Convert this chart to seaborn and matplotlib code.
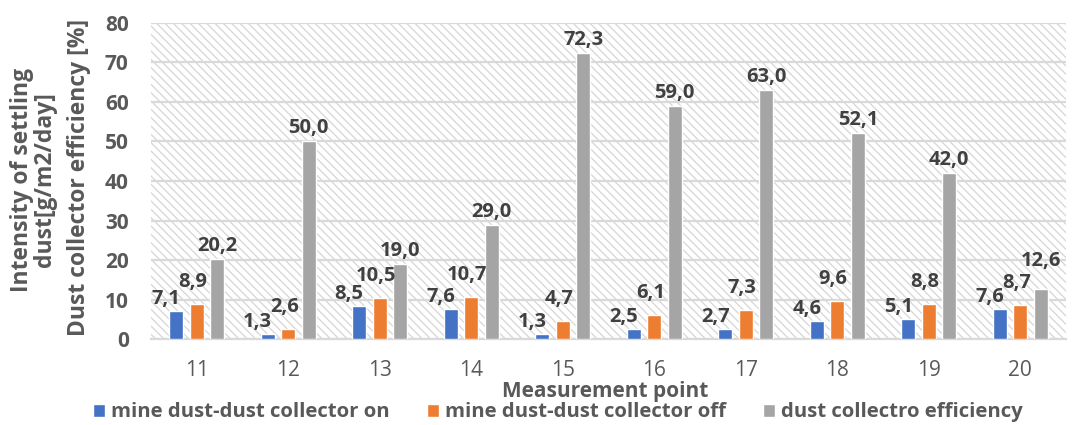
import matplotlib
matplotlib.use("Agg")
import matplotlib.pyplot as plt
import matplotlib.patches as mpatches
import seaborn as sns
import pandas as pd

# Measurement points and the three measured series
points = ["11", "12", "13", "14", "15", "16", "17", "18", "19", "20"]
dust_on = [7.1, 1.3, 8.5, 7.6, 1.3, 2.5, 2.7, 4.6, 5.1, 7.6]
dust_off = [8.9, 2.6, 10.5, 10.7, 4.7, 6.1, 7.3, 9.6, 8.8, 8.7]
efficiency = [20.2, 50.0, 19.0, 29.0, 72.3, 59.0, 63.0, 52.1, 42.0, 12.6]

series_names = [
    "mine dust-dust collector on",
    "mine dust-dust collector off",
    "dust collectro efficiency",
]
series_values = [dust_on, dust_off, efficiency]
colors = ["#4472C4", "#ED7D31", "#A5A5A5"]

y_ticks = [0, 10, 20, 30, 40, 50, 60, 70, 80]

rows = []
for name, vals in zip(series_names, series_values):
    for p, v in zip(points, vals):
        rows.append({"point": p, "value": v, "series": name})
df = pd.DataFrame(rows)

sns.set_theme(style="white")
plt.rcParams["font.family"] = ["Open Sans", "DejaVu Sans"]
plt.rcParams["hatch.linewidth"] = 0.9

fig = plt.figure(figsize=(10.73, 4.25), dpi=100)
ax = fig.add_axes([0.1407, 0.2016, 0.8528, 0.745])

# hatched plot-area background
bg = mpatches.Rectangle((0, 0), 1, 1, transform=ax.transAxes, facecolor="white",
                        edgecolor="#d6d6d6", hatch="\\\\\\\\", linewidth=0, zorder=0)
ax.add_patch(bg)

sns.barplot(data=df, x="point", y="value", hue="series", order=points,
            hue_order=series_names, palette=colors, width=0.672, gap=0.32,
            saturation=1, ax=ax, zorder=3, legend=True)

ax.set_ylim(0, 80)
ax.set_yticks(y_ticks)
ax.set_xlim(-0.5, len(points) - 0.5)
ax.grid(axis="y", color="#d9d9d9", linewidth=1.6, zorder=1)
ax.set_axisbelow(True)
for s in ["top", "right", "left"]:
    ax.spines[s].set_visible(False)
ax.spines["bottom"].set_color("#d9d9d9")
ax.spines["bottom"].set_linewidth(1.6)
ax.tick_params(axis="both", length=0)
ax.tick_params(axis="x", pad=15, labelsize=15, labelcolor="#595959")
ax.tick_params(axis="y", pad=16, labelsize=15, labelcolor="#595959")
for t in ax.get_yticklabels():
    t.set_fontweight("bold")

ax.set_xlabel("Measurement point", fontsize=15, fontweight="bold", color="#595959")
ax.xaxis.set_label_coords(0.496, -0.133)

# two axis titles on the value axis
ax.set_ylabel("Dust collector efficiency [%]", fontsize=16.5, fontweight="bold",
              color="#595959")
ax.yaxis.set_label_coords(-0.065, 0.51)
fig.text(0.031, 0.577, "Intensity of settling\ndust[g/m2/day]", rotation=90,
         ha="center", va="center", multialignment="center", linespacing=0.95,
         fontsize=16.5, fontweight="bold", color="#595959")

# value labels, Excel-style comma decimals; offsets in pixels
px = 72 / fig.dpi
offsets = [(-10, 12), (-4, 22), (0, 13)]
to_px = ax.transData
orange_y = {}
for k, (container, (dx, dy)) in enumerate(zip(ax.containers, offsets)):
    for i, bar in enumerate(container):
        h = bar.get_height()
        x = bar.get_x() + bar.get_width() / 2
        top_px = to_px.transform((x, h))[1]
        y_px = top_px + dy
        if k == 1:
            orange_y[i] = y_px
        elif k == 2:
            # keep the efficiency label clear of the neighbouring label
            y_px = max(y_px, orange_y[i] + 22)
        ax.annotate(f"{h:.1f}".replace(".", ","),
                    xy=(x, h), xytext=(dx * px, (y_px - top_px) * px),
                    textcoords="offset points",
                    ha="center", va="center", fontsize=14.5, fontweight="bold",
                    color="#404040", zorder=5)

handles, labels = ax.get_legend_handles_labels()
ax.legend_.remove()
fig.legend(handles, labels, loc="center", bbox_to_anchor=(0.52, 0.03), ncol=3,
           frameon=False, handlelength=0.6, handleheight=0.6,
           handletextpad=0.3, columnspacing=1.8,
           labelcolor="#595959", prop={"weight": "bold", "size": 14.7})

fig.savefig("out.png", dpi=100)
